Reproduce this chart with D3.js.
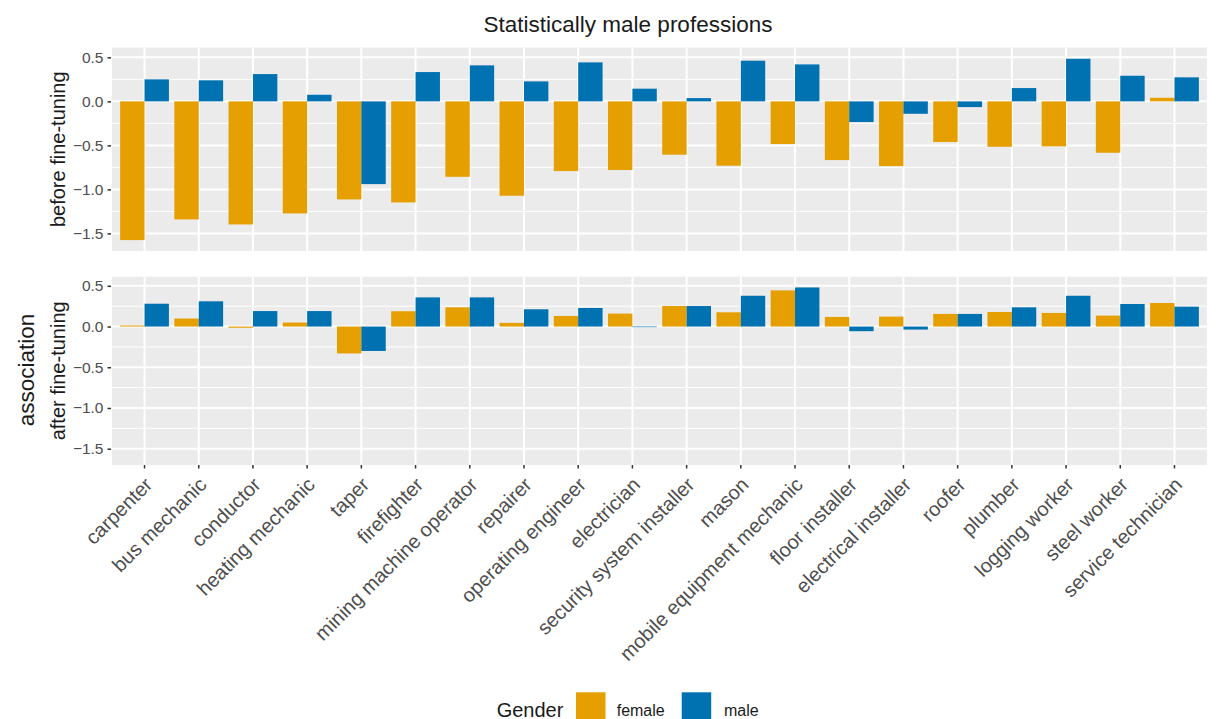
<!DOCTYPE html>
<html>
<head>
<meta charset="utf-8">
<script src="https://cdn.jsdelivr.net/npm/d3@7/dist/d3.min.js"></script>
<style>
  html, body { margin: 0; padding: 0; background: #fff; }
  svg { display: block; font-family: "Liberation Sans", Arial, Helvetica, sans-serif; }
</style>
</head>
<body>
<svg id="chart" width="1218" height="719"></svg>
<script>
// Professions, in display order
const professions = [
  "carpenter", "bus mechanic", "conductor", "heating mechanic", "taper",
  "firefighter", "mining machine operator", "repairer", "operating engineer",
  "electrician", "security system installer", "mason", "mobile equipment mechanic",
  "floor installer", "electrical installer", "roofer", "plumber",
  "logging worker", "steel worker", "service technician"
];

const genders = ["female", "male"];
const genderColors = ["#E69F00", "#0072B2"];

// Association scores before fine-tuning
const beforeFemale = [-1.576, -1.341, -1.398, -1.273, -1.114, -1.148, -0.857, -1.072, -0.792, -0.780,
                      -0.606, -0.731, -0.485, -0.667, -0.735, -0.462, -0.516, -0.511, -0.584, 0.041];
const beforeMale   = [0.250, 0.239, 0.310, 0.075, -0.940, 0.333, 0.409, 0.227, 0.443, 0.144,
                      0.037, 0.462, 0.420, -0.235, -0.141, -0.065, 0.151, 0.484, 0.291, 0.273];

// Association scores after fine-tuning
const afterFemale  = [0.012, 0.098, -0.015, 0.049, -0.330, 0.188, 0.236, 0.045, 0.130, 0.159,
                      0.252, 0.175, 0.444, 0.118, 0.122, 0.155, 0.179, 0.167, 0.134, 0.289];
const afterMale    = [0.280, 0.310, 0.190, 0.190, -0.300, 0.358, 0.358, 0.212, 0.228, -0.005,
                      0.252, 0.378, 0.480, -0.057, -0.037, 0.155, 0.236, 0.378, 0.277, 0.244];

const yTicks = [-1.5, -1.0, -0.5, 0.0, 0.5];
const yMinor = [-1.25, -0.75, -0.25, 0.25];
const yDomain = [-1.70, 0.612];

const panels = [
  { label: "before fine-tuning", female: beforeFemale, male: beforeMale, top: 47.5, bottom: 251 },
  { label: "after fine-tuning",  female: afterFemale,  male: afterMale,  top: 276.7, bottom: 465 }
];

const svg = d3.select("#chart");
const left = 112, right = 1207;

const x = d3.scaleBand().domain(professions).range([left, right]).paddingInner(0).paddingOuter(0.1);
const xg = d3.scaleBand().domain(genders).range([0, x.bandwidth()]).paddingInner(0).paddingOuter(1 / 9);
const color = d3.scaleOrdinal().domain(genders).range(genderColors);

const tickFmt = d3.format(".1f");

panels.forEach((p, pi) => {
  const y = d3.scaleLinear().domain(yDomain).range([p.bottom, p.top]);
  const g = svg.append("g");

  // panel background
  g.append("rect")
    .attr("x", left).attr("y", p.top)
    .attr("width", right - left).attr("height", p.bottom - p.top)
    .attr("fill", "#EBEBEB");

  // minor horizontal grid
  g.selectAll(".minor").data(yMinor).join("line")
    .attr("x1", left).attr("x2", right)
    .attr("y1", d => y(d)).attr("y2", d => y(d))
    .attr("stroke", "#fff").attr("stroke-width", 1);

  // major horizontal grid
  g.selectAll(".major").data(yTicks).join("line")
    .attr("x1", left).attr("x2", right)
    .attr("y1", d => y(d)).attr("y2", d => y(d))
    .attr("stroke", "#fff").attr("stroke-width", 2);

  // vertical grid at categories
  g.selectAll(".vgrid").data(professions).join("line")
    .attr("x1", d => x(d) + x.bandwidth() / 2).attr("x2", d => x(d) + x.bandwidth() / 2)
    .attr("y1", p.top).attr("y2", p.bottom)
    .attr("stroke", "#fff").attr("stroke-width", 2);

  // bars
  const rows = [];
  professions.forEach((prof, i) => {
    rows.push({ prof, gender: "female", value: p.female[i] });
    rows.push({ prof, gender: "male", value: p.male[i] });
  });
  g.selectAll(".bar").data(rows).join("rect")
    .attr("x", d => x(d.prof) + xg(d.gender))
    .attr("width", xg.bandwidth())
    .attr("y", d => y(Math.max(0, d.value)))
    .attr("height", d => Math.max(Math.abs(y(d.value) - y(0)), 0.6))
    .attr("fill", d => color(d.gender));

  // y axis
  const yAxis = d3.axisLeft(y).tickValues(yTicks).tickFormat(tickFmt).tickSize(3.5).tickPadding(4);
  const ya = svg.append("g").attr("transform", `translate(${left - 1},0)`).call(yAxis);
  ya.select(".domain").remove();
  ya.selectAll(".tick line").attr("stroke", "#333").attr("stroke-width", 1.5);
  ya.selectAll(".tick text").attr("fill", "#4D4D4D").style("font-size", "15.5px")
    .style("font-family", "'Liberation Sans', Arial, sans-serif");

  // row label
  svg.append("text")
    .attr("transform", `translate(65,${(p.top + p.bottom) / 2}) rotate(-90)`)
    .attr("text-anchor", "middle")
    .attr("fill", "#1A1A1A")
    .style("font-size", "20px")
    .text(p.label);

  if (pi === 1) {
    // x axis on the lower panel only
    const xAxis = d3.axisBottom(x).tickSize(3.5).tickPadding(2);
    const xa = svg.append("g").attr("transform", `translate(0,${p.bottom})`).call(xAxis);
    xa.select(".domain").remove();
    xa.selectAll(".tick line").attr("stroke", "#333").attr("stroke-width", 1.5);
    xa.selectAll(".tick text")
      .attr("fill", "#4D4D4D")
      .style("font-size", "20px")
      .style("font-family", "'Liberation Sans', Arial, sans-serif")
      .attr("text-anchor", "end")
      .attr("dy", null)
      .attr("y", 0)
      .attr("transform", "translate(9,21) rotate(-45)");
  }
});

// shared axis title
svg.append("text")
  .attr("transform", "translate(33.5,370) rotate(-90)")
  .attr("text-anchor", "middle")
  .attr("fill", "#1A1A1A")
  .style("font-size", "22.5px")
  .text("association");

// title
svg.append("text")
  .attr("x", 628).attr("y", 31.5)
  .attr("text-anchor", "middle")
  .attr("fill", "#1A1A1A")
  .style("font-size", "22.5px")
  .text("Statistically male professions");

// legend
const legend = svg.append("g");
legend.append("text")
  .attr("x", 496.7).attr("y", 716.5)
  .attr("fill", "#1A1A1A")
  .style("font-size", "20px")
  .text("Gender");

const keyX = [576, 681.7];
const labelX = [616.7, 724];
genders.forEach((gname, i) => {
  legend.append("rect")
    .attr("x", keyX[i]).attr("y", 692.3)
    .attr("width", 29.5).attr("height", 29.5)
    .attr("fill", color(gname));
  legend.append("text")
    .attr("x", labelX[i]).attr("y", 715.5)
    .attr("fill", "#1A1A1A")
    .style("font-size", "16px")
    .text(gname);
});
</script>
</body>
</html>
